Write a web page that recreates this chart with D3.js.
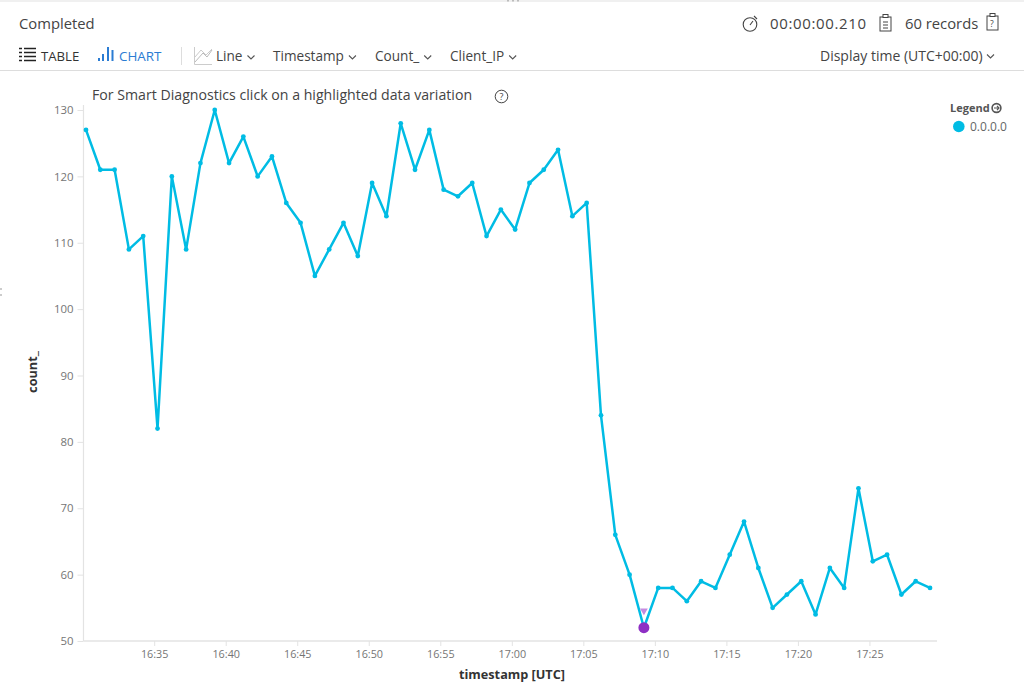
<!DOCTYPE html>
<html><head><meta charset="utf-8">
<script src="https://cdnjs.cloudflare.com/ajax/libs/d3/7.8.5/d3.min.js"></script>
<style>html,body{margin:0;background:#fff}svg{display:block;font-family:"Open Sans",sans-serif}</style>
</head><body><svg id="c" width="1024" height="692"></svg>
<script>
const seriesName = "0.0.0.0";
const startTime = "2018-01-01T16:30:14Z";
const minutesStep = 1;
const counts = [127,121,121,109,111,82,120,109,122,130,122,126,120,123,116,113,105,109,113,108,119,114,128,121,127,118,117,119,111,115,112,119,121,124,114,116,84,66,60,52,58,58,56,59,58,63,68,61,55,57,59,54,61,58,73,62,63,57,59,58];
const anomalyIndex = [39];
const yTicks = [50,60,70,80,90,100,110,120,130];
const xTickTimes = ["16:35","16:40","16:45","16:50","16:55","17:00","17:05","17:10","17:15","17:20","17:25"];
const toolbarLabels = [["Line",216],["Timestamp",273],["Count_",375],["Client_IP",450]];

const svg = d3.select("#c");
const t0 = new Date(startTime);
const points = counts.map((v,i)=>({t:new Date(+t0+i*minutesStep*60000),v}));
const fmt = d3.utcFormat("%H:%M");
const x = d3.scaleUtc().domain([new Date("2018-01-01T16:30:14Z"),new Date("2018-01-01T17:29:14Z")]).range([86,930]);
const y = d3.scaleLinear().domain([50,130]).range([641,110]);
const axisCol="#e3e3e3", tickText="#757575", txt="#444";

// top hairline and clipped-off ellipsis remains from the screenshot
svg.append("rect").attr("width",1024).attr("height",2).attr("fill","#f0f0f0");
svg.append("path").attr("d","M508,0v1.5M513,0v1.5M518,0v1.5").attr("stroke","#888");
svg.append("path").attr("d","M1,288v2M1,294v2").attr("stroke","#999");
const T=(s,px,py,size,fill,extra={})=>{const e=svg.append("text").attr("x",px).attr("y",py).attr("font-size",size).attr("fill",fill||txt).text(s);for(const k in extra)e.attr(k,extra[k]);return e;};

T("Completed",19,29,14.8);
T("00:00:00.210",770,29,15,txt,{textLength:96});
T("60 records",905,29,14.8);
T("TABLE",41,61,13.2,"#333");
T("CHART",119,61,13.4,"#2b7cd3");
toolbarLabels.forEach(([s,px])=>{
  const e=T(s,px,61,13.6);
  chev(px+e.node().getComputedTextLength()+5,55.5);
});
T("Display time (UTC+00:00)",820,61,14);
chev(987,54.5);
function chev(cx,cy){svg.append("path").attr("d",`M${cx},${cy}l3.5,3.5l3.5,-3.5`).attr("fill","none").attr("stroke","#555").attr("stroke-width",1.1);}

// toolbar separator and rule
svg.append("line").attr("x1",181.5).attr("x2",181.5).attr("y1",47).attr("y2",65).attr("stroke","#ddd");
svg.append("line").attr("x1",0).attr("x2",1024).attr("y1",70.5).attr("y2",70.5).attr("stroke","#ddd").attr("stroke-width",1.2);

// table icon
const ic=svg.append("g").attr("stroke","#222").attr("stroke-width",1.5);
[48.5,52.5,56.5,60.5].forEach(yy=>{
  ic.append("line").attr("x1",19).attr("x2",22).attr("y1",yy).attr("y2",yy);
  ic.append("line").attr("x1",24).attr("x2",36).attr("y1",yy).attr("y2",yy);
});
// chart icon
[[99,58,3],[103,54,7],[108,47,14],[112.5,50,11]].forEach(([bx,by,h])=>svg.append("rect").attr("x",bx-1).attr("y",by).attr("width",2).attr("height",h).attr("fill","#2b7cd3"));
// line icon
svg.append("path").attr("d","M194.5,47V64.5H212").attr("fill","none").attr("stroke","#ccc");
svg.append("path").attr("d","M195,62L203,53L207,57L212,50").attr("fill","none").attr("stroke","#bbb");
svg.append("path").attr("d","M195,57L201,50L206,55L212,49").attr("fill","none").attr("stroke","#ccc");
// timer icon
svg.append("circle").attr("cx",750).attr("cy",24.5).attr("r",6.8).attr("fill","none").attr("stroke","#444").attr("stroke-width",1.1);
svg.append("path").attr("d","M750,25L753,21M754,16L757,19").attr("stroke","#444").attr("stroke-width",1.1).attr("fill","none");
// clipboard icons
[[880,17],[987,16]].forEach(([cx,cy])=>{
  svg.append("rect").attr("x",cx).attr("y",cy).attr("width",11).attr("height",14).attr("fill","none").attr("stroke","#444");
  svg.append("rect").attr("x",cx+3).attr("y",cy-2.5).attr("width",5).attr("height",3).attr("fill","#fff").attr("stroke","#444");
});
svg.append("path").attr("d","M883,22h5M883,25h5M883,28h5").attr("stroke","#444");
T("?",990,27,8.5,"#444");

T("For Smart Diagnostics click on a highlighted data variation",92,100,14.15);
svg.append("circle").attr("cx",501.5).attr("cy",96.5).attr("r",6.3).attr("fill","none").attr("stroke","#444");
T("?",501.5,100,9,"#444",{"text-anchor":"middle"});

// axes
const gx=svg.append("g").attr("transform","translate(0,641)").call(
  d3.axisBottom(x).tickValues(xTickTimes.map(s=>new Date(`2018-01-01T${s}:00Z`))).tickFormat(fmt).tickSize(5).tickSizeOuter(0));
gx.select(".domain").attr("stroke",axisCol).attr("stroke-width",1.4).attr("d","M83.5,0H937");
gx.selectAll(".tick line").attr("stroke",axisCol);
gx.selectAll("text").attr("fill",tickText).attr("font-size",10.8).attr("font-family","'Open Sans',sans-serif").attr("dy","0.85em");
const gy=svg.append("g").attr("transform","translate(83.5,0)").call(
  d3.axisLeft(y).tickValues(yTicks).tickSize(6).tickSizeOuter(0).tickPadding(4));
gy.select(".domain").attr("stroke",axisCol).attr("stroke-width",1.2).attr("d","M0,105V641");
gy.selectAll(".tick line").attr("stroke",axisCol);
gy.selectAll("text").attr("fill",tickText).attr("font-size",11.4).attr("font-family","'Open Sans',sans-serif");

T("timestamp [UTC]",512,679,12.7,"#333",{"text-anchor":"middle","font-weight":700});
T("count_",0,0,12.7,"#333",{"text-anchor":"middle","font-weight":700,transform:"translate(37,372) rotate(-90)"});

// series
const col="#00bce4";
svg.append("path").datum(points).attr("fill","none").attr("stroke",col).attr("stroke-width",2.5).attr("stroke-linejoin","round")
  .attr("d",d3.line().x(d=>x(d.t)).y(d=>y(d.v)));
svg.append("g").selectAll("circle").data(points).join("circle").attr("cx",d=>x(d.t)).attr("cy",d=>y(d.v)).attr("r",2.4).attr("fill",col);
anomalyIndex.forEach(i=>{
  const p=points[i],cx=x(p.t),cy=y(p.v);
  svg.append("circle").attr("cx",cx).attr("cy",cy).attr("r",5.5).attr("fill","#8e2fc4");
  svg.append("path").attr("d",d3.symbol(d3.symbolTriangle,26)()).attr("transform",`translate(${cx},${cy-17}) rotate(180)`).attr("fill","#c58be0");
});

// legend
T("Legend",950,112,11,"#555",{"font-weight":700});
svg.append("circle").attr("cx",996.5).attr("cy",108).attr("r",4.4).attr("fill","none").attr("stroke","#555").attr("stroke-width",1.6);
svg.append("path").attr("d","M994,108h4.5M997,105.8l2,2.2l-2,2.2").attr("fill","none").attr("stroke","#555").attr("stroke-width",1.2);
svg.append("circle").attr("cx",958.8).attr("cy",126.5).attr("r",5.8).attr("fill",col);
T(seriesName,970,131,12,"#666");
</script></body></html>
